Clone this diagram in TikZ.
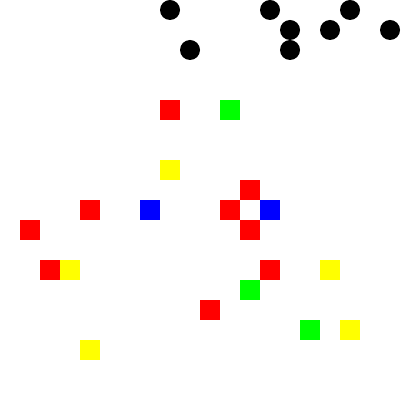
\documentclass[tikz,border=0pt]{standalone}
\definecolor{cred}{HTML}{FF0000}
\definecolor{cgreen}{HTML}{00FF00}
\definecolor{cblue}{HTML}{0000FF}
\definecolor{cyellow}{HTML}{FFFF00}
\tikzset{
  sq/.style={rectangle, draw=none, inner sep=0pt, outer sep=0pt, minimum size=10pt},
  dot/.style={circle, fill=black, draw=none, inner sep=0pt, minimum size=10pt},
}
\begin{document}
\begin{tikzpicture}[x=0.5pt,y=-0.5pt]
\useasboundingbox[fill=white] (0,0) rectangle (400,400);
% black dots
\node[dot] (d1) at (170,10) {};
\node[dot] (d2) at (270,10) {};
\node[dot] (d3) at (350,10) {};
\node[dot] (d4) at (290,30) {};
\node[dot] (d5) at (330,30) {};
\node[dot] (d6) at (390,30) {};
\node[dot] (d7) at (190,50) {};
\node[dot] (d8) at (290,50) {};
% squares
\node[sq, fill=cred] (s1) at (170,110) {};
\node[sq, fill=cgreen] (s2) at (230,110) {};
\node[sq, fill=cyellow] (s3) at (170,170) {};
\node[sq, fill=cred] (s4) at (250,190) {};
\node[sq, fill=cred] (s5) at (90,210) {};
\node[sq, fill=cblue] (s6) at (150,210) {};
\node[sq, fill=cred] (s7) at (230,210) {};
\node[sq, fill=cblue] (s8) at (270,210) {};
\node[sq, fill=cred] (s9) at (30,230) {};
\node[sq, fill=cred] (s10) at (250,230) {};
\node[sq, fill=cred] (s11) at (50,270) {};
\node[sq, fill=cyellow] (s12) at (70,270) {};
\node[sq, fill=cred] (s13) at (270,270) {};
\node[sq, fill=cyellow] (s14) at (330,270) {};
\node[sq, fill=cgreen] (s15) at (250,290) {};
\node[sq, fill=cred] (s16) at (210,310) {};
\node[sq, fill=cgreen] (s17) at (310,330) {};
\node[sq, fill=cyellow] (s18) at (350,330) {};
\node[sq, fill=cyellow] (s19) at (90,350) {};
\end{tikzpicture}
\end{document}
